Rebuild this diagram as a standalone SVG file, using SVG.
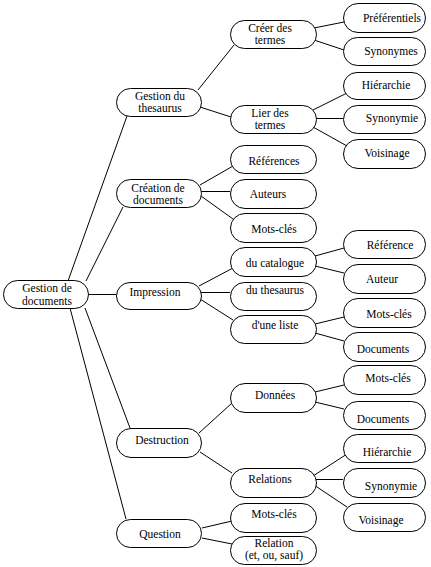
<svg xmlns="http://www.w3.org/2000/svg" width="431" height="567" viewBox="0 0 431 567">
<style>
rect{fill:#fff;stroke:#000;stroke-width:1}
line{stroke:#000;stroke-width:1}
text{font-size:11.5px;fill:#000;text-anchor:middle}
</style>
<rect x="0" y="0" width="431" height="567" style="stroke:none"/>
<g id="connectors">
<line x1="68" y1="281" x2="127" y2="116"/>
<line x1="86" y1="281" x2="123" y2="207"/>
<line x1="88" y1="294.5" x2="116" y2="294.5"/>
<line x1="85" y1="308" x2="130" y2="428"/>
<line x1="70" y1="308" x2="126" y2="519"/>
<line x1="198" y1="90" x2="234" y2="45"/>
<line x1="200" y1="107" x2="231" y2="117"/>
<line x1="314" y1="28" x2="344" y2="22"/>
<line x1="314" y1="40" x2="344" y2="50"/>
<line x1="313" y1="110" x2="347" y2="93"/>
<line x1="316" y1="118.5" x2="343" y2="118.5"/>
<line x1="313" y1="127" x2="347" y2="146"/>
<line x1="200" y1="185" x2="233" y2="166"/>
<line x1="201" y1="191.5" x2="230" y2="191.5"/>
<line x1="201" y1="196" x2="233" y2="219"/>
<line x1="199" y1="286" x2="233" y2="268"/>
<line x1="201" y1="292.5" x2="230" y2="292.5"/>
<line x1="200" y1="299" x2="233" y2="320"/>
<line x1="315" y1="256" x2="344" y2="248"/>
<line x1="315" y1="266" x2="344" y2="273"/>
<line x1="315" y1="324" x2="344" y2="317"/>
<line x1="315" y1="333" x2="344" y2="341"/>
<line x1="199" y1="433" x2="232" y2="403"/>
<line x1="200" y1="452" x2="232" y2="473"/>
<line x1="315" y1="392" x2="344" y2="385"/>
<line x1="315" y1="402" x2="344" y2="409"/>
<line x1="313" y1="476" x2="347" y2="454"/>
<line x1="316" y1="479.5" x2="343" y2="479.5"/>
<line x1="314" y1="485" x2="347" y2="507"/>
<line x1="202" y1="528" x2="232" y2="521"/>
<line x1="202" y1="538" x2="232" y2="544"/>
</g>
<g font-family="'Liberation Serif', 'Times New Roman', 'DejaVu Serif', serif">
<g id="n-root"><rect x="3.5" y="280.5" width="85" height="28" rx="14"/><text x="47" y="292">Gestion de</text><text x="47" y="304.5">documents</text></g>
<g id="n-thesaurus"><rect x="116.5" y="88.5" width="85" height="28" rx="14"/><text x="160" y="99.5">Gestion du</text><text x="160" y="112">thesaurus</text></g>
<g id="n-creation"><rect x="116.5" y="179.5" width="85" height="28" rx="14"/><text x="158" y="191.5">Création de</text><text x="158" y="204">documents</text></g>
<g id="n-impression"><rect x="116.5" y="282.5" width="85" height="27" rx="13.5"/><text x="155" y="296">Impression</text></g>
<g id="n-destruction"><rect x="116.5" y="428.5" width="85" height="29" rx="14.5"/><text x="162" y="444">Destruction</text></g>
<g id="n-question"><rect x="116.5" y="519.5" width="85" height="28" rx="14"/><text x="160" y="538">Question</text></g>
<g id="n-creer"><rect x="230.5" y="20.5" width="86" height="28" rx="14"/><text x="270" y="31.5">Créer des</text><text x="270" y="44">termes</text></g>
<g id="n-lier"><rect x="230.5" y="105.5" width="86" height="28" rx="14"/><text x="270" y="116.5">Lier des</text><text x="270" y="129">termes</text></g>
<g id="n-references"><rect x="230.5" y="145.5" width="86" height="28" rx="14"/><text x="274" y="165">Références</text></g>
<g id="n-auteurs"><rect x="230.5" y="179.5" width="86" height="29" rx="14.5"/><text x="268" y="198">Auteurs</text></g>
<g id="n-motscles1"><rect x="230.5" y="213.5" width="86" height="29" rx="14.5"/><text x="274" y="233">Mots-clés</text></g>
<g id="n-catalogue"><rect x="230.5" y="247.5" width="86" height="29" rx="14.5"/><text x="275" y="267">du catalogue</text></g>
<g id="n-duthesaurus"><rect x="230.5" y="282.5" width="86" height="28" rx="14"/><text x="275" y="294">du thesaurus</text></g>
<g id="n-liste"><rect x="230.5" y="315.5" width="86" height="28" rx="14"/><text x="275" y="329">d'une liste</text></g>
<g id="n-donnees"><rect x="230.5" y="383.5" width="86" height="29" rx="14.5"/><text x="275" y="399">Données</text></g>
<g id="n-relations"><rect x="230.5" y="468.5" width="86" height="29" rx="14.5"/><text x="270" y="483">Relations</text></g>
<g id="n-motscles2"><rect x="230.5" y="503.5" width="86" height="29" rx="14.5"/><text x="274" y="518">Mots-clés</text></g>
<g id="n-relation"><rect x="230.5" y="536.5" width="86" height="28" rx="14"/><text x="274" y="546.5">Relation</text><text x="274" y="559">(et, ou, sauf)</text></g>
<g id="n-preferentiels"><rect x="343.5" y="3.5" width="82" height="29" rx="14.5"/><text x="392" y="22">Préférentiels</text></g>
<g id="n-synonymes"><rect x="343.5" y="37.5" width="82" height="28" rx="14"/><text x="391" y="55">Synonymes</text></g>
<g id="n-hierarchie1"><rect x="343.5" y="72.5" width="82" height="27" rx="13.5"/><text x="386" y="89">Hiérarchie</text></g>
<g id="n-synonymie1"><rect x="343.5" y="105.5" width="82" height="28" rx="14"/><text x="392" y="122">Synonymie</text></g>
<g id="n-voisinage1"><rect x="343.5" y="139.5" width="82" height="29" rx="14.5"/><text x="387" y="157">Voisinage</text></g>
<g id="n-reference"><rect x="343.5" y="230.5" width="82" height="28" rx="14"/><text x="390" y="249">Référence</text></g>
<g id="n-auteur"><rect x="343.5" y="264.5" width="82" height="29" rx="14.5"/><text x="382" y="283">Auteur</text></g>
<g id="n-motscles3"><rect x="343.5" y="298.5" width="82" height="29" rx="14.5"/><text x="389" y="318">Mots-clés</text></g>
<g id="n-documents1"><rect x="343.5" y="332.5" width="82" height="29" rx="14.5"/><text x="383" y="353">Documents</text></g>
<g id="n-motscles4"><rect x="343.5" y="365.5" width="82" height="29" rx="14.5"/><text x="388" y="382">Mots-clés</text></g>
<g id="n-documents2"><rect x="343.5" y="401.5" width="82" height="28" rx="14"/><text x="383" y="423">Documents</text></g>
<g id="n-hierarchie2"><rect x="343.5" y="434.5" width="82" height="28" rx="14"/><text x="387" y="456">Hiérarchie</text></g>
<g id="n-synonymie2"><rect x="343.5" y="468.5" width="82" height="29" rx="14.5"/><text x="391" y="490">Synonymie</text></g>
<g id="n-voisinage2"><rect x="343.5" y="503.5" width="82" height="28" rx="14"/><text x="381" y="524">Voisinage</text></g>
</g>
</svg>
